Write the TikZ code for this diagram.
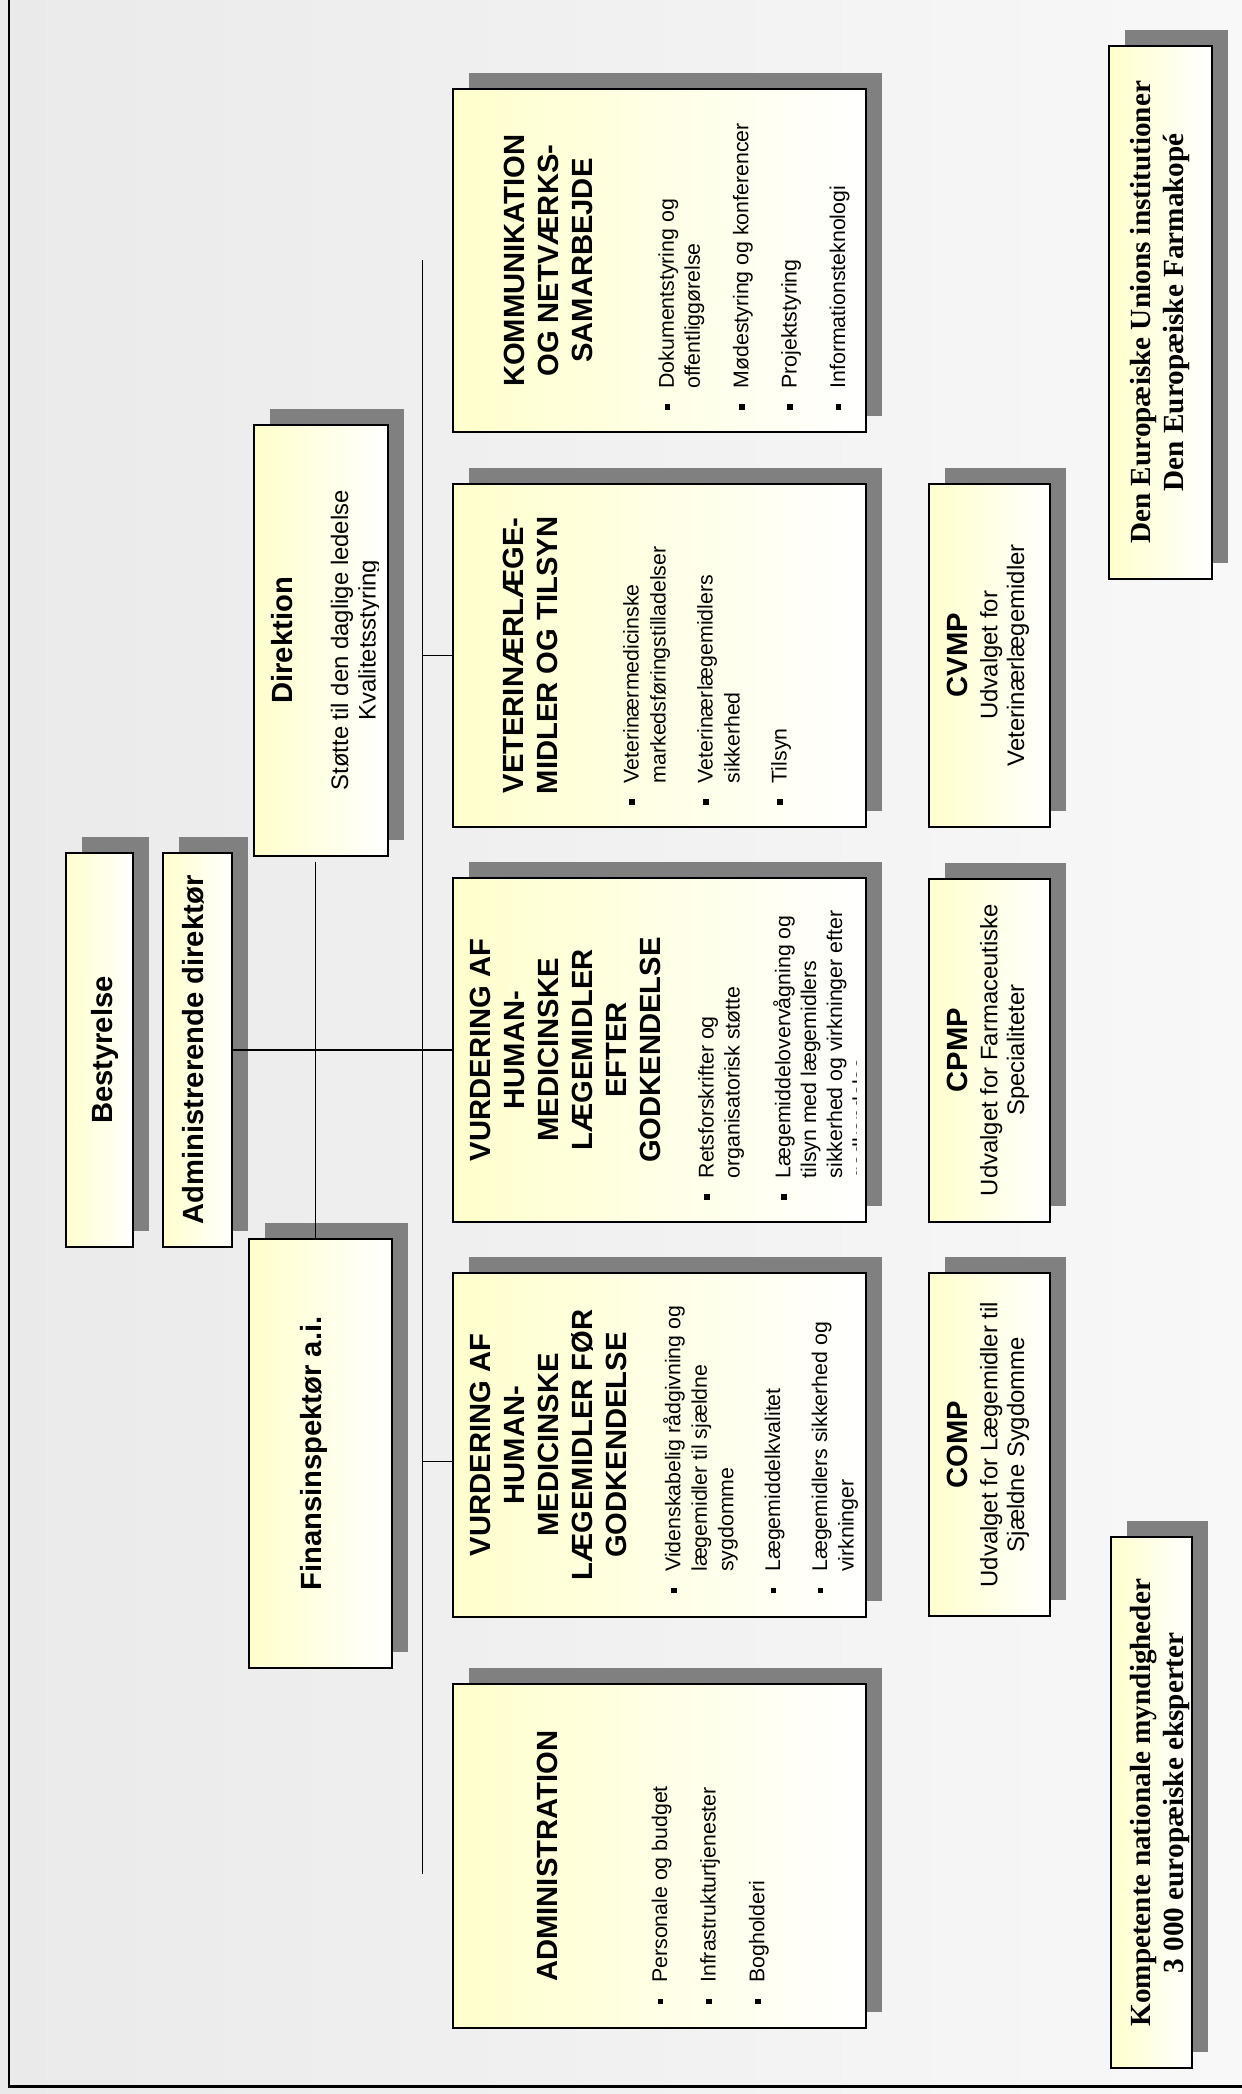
\documentclass[tikz,border=0pt]{standalone}
\usepackage{fontspec}
\setmainfont{Liberation Sans}
\newfontfamily\tnr{Liberation Serif}
\usetikzlibrary{shadows,calc}
\definecolor{ylw}{RGB}{255,255,204}
\definecolor{bgL}{RGB}{234,234,234}
\definecolor{bgR}{RGB}{248,248,248}
\newcommand{\bul}{\leavevmode\llap{\rule[1.9pt]{2.75pt}{2.75pt}\hspace{8pt}}}
\begin{document}
\begin{tikzpicture}[x=0.5pt,y=-0.5pt,
  box/.style={draw=black, line width=1pt, left color=ylw, right color=white, inner sep=0pt, outer sep=0pt,
    drop shadow={shadow xshift=8pt, shadow yshift=8pt, opacity=1, fill=black!50}},
  rt/.style={rotate=90, inner sep=0pt, outer sep=0pt},
  ttl/.style={rt, anchor=north, align=center, font=\bfseries\fontsize{14.6}{17}\selectfont},
  bdy/.style={rt, anchor=north, align=center, font=\fontsize{11.95}{13.35}\selectfont},
  bullets/.style={rt, anchor=north west, align=left, font=\fontsize{10.65}{#1}\selectfont},
  serifttl/.style={rt, anchor=north, align=center, font=\tnr\bfseries\fontsize{14.6}{16.85}\selectfont},
  conn/.style={line width=0.7pt, black}
]
\clip (0,0) rectangle (1242,2094);
\fill[left color=bgL, right color=bgR] (0,0) rectangle (1242,2094);
\draw[line width=1.2pt] (8.7,-10) -- (8.7,2086.5) -- (1260,2086.5);

% boxes
\node[box, minimum width=33.05pt, minimum height=197.3pt] (best) at (99.45,1050) {};
\node[box, minimum width=34.5pt, minimum height=197.3pt] (adm) at (197.5,1050) {};
\node[box, minimum width=67pt, minimum height=215.65pt] (dir) at (321,640.35) {};
\node[box, minimum width=71.5pt, minimum height=214.5pt] (fin) at (320.5,1453.5) {};
\node[box, minimum width=206.65pt, minimum height=171.35pt] (komm) at (659.35,260.65) {};
\node[box, minimum width=206.65pt, minimum height=171.8pt] (vet) at (659.35,655.5) {};
\node[box, minimum width=206.65pt, minimum height=171.7pt] (vefter) at (659.35,1050) {};
\node[box, minimum width=206.65pt, minimum height=171.7pt] (vfor) at (659.35,1445) {};
\node[box, minimum width=206.65pt, minimum height=172pt] (admin) at (659.35,1856.3) {};
\node[box, minimum width=60.1pt, minimum height=171.7pt] (cvmp) at (989.5,655.3) {};
\node[box, minimum width=60.1pt, minimum height=171.5pt] (cpmp) at (989.5,1050) {};
\node[box, minimum width=60.1pt, minimum height=171.8pt] (comp) at (989.5,1444.6) {};
\node[box, minimum width=51.65pt, minimum height=266.25pt] (eu) at (1160.35,312.25) {};
\node[box, minimum width=40.85pt, minimum height=265.55pt] (komp) at (1151.55,1802.75) {};

% connectors
\coordinate (vtop) at (422.7,260);
\coordinate (vbot) at (422.7,1873.6);
\coordinate (dx) at (315.5,0);
\draw[conn] (vtop) -- (vbot);
\draw[conn] (vtop |- vet.west) -- (vet.west);
\coordinate (vforin) at ($(vfor.west)+(0,16.7)$);
\draw[conn] (vtop |- vforin) -- (vforin);
\draw[conn] (adm.east) -- (vefter.west);
\coordinate (dbase) at (dir.south -| dx);
\coordinate (dstart) at ($(dbase)+(0,5.5)$);
\draw[conn] (dstart) -- (fin.north -| dx);

% top level texts
\node[ttl] (bestT) at (91.7,1050) {Bestyrelse};
\node[ttl] (admT) at (181.9,1050) {Administrerende direktør};
\node[ttl] (dirT) at (271.7,640.3) {Direktion};
\begin{scope}
\clip (dir.north west) rectangle ($(dir.south east)+(-10,0)$);
\node[bdy, font=\fontsize{11.95}{13.85}\selectfont] (dirB) at (330.7,640.3) {Støtte til den daglige ledelse\\Kvalitetsstyring};
\end{scope}
\node[ttl] (finT) at (300.5,1453.5) {Finansinspektør a.i.};

% divisions
\node[ttl] (kommT) at (504,260.65) {KOMMUNIKATION\\OG NETVÆRKS-\\SAMARBEJDE};
\node[bullets=13pt] (kommB) at (658.5,388.4) {\bul Dokumentstyring og\\offentliggørelse\\[11.2pt]\bul Mødestyring og konferencer\\[11.2pt]\bul Projektstyring\\[11.2pt]\bul Informationsteknologi};

\node[ttl] (vetT) at (503.3,655.5) {VETERINÆRLÆGE-\\MIDLER OG TILSYN};
\node[bullets=13.4pt] (vetB) at (623.3,783.3) {\bul Veterinærmedicinske\\markedsføringstilladelser\\[10.2pt]\bul Veterinærlægemidlers\\sikkerhed\\[10.2pt]\bul Tilsyn};

\node[ttl] (vefterT) at (470,1050) {VURDERING AF\\HUMAN-\\MEDICINSKE\\LÆGEMIDLER\\EFTER\\GODKENDELSE};
\begin{scope}
\clip (vefter.north west) rectangle ($(vefter.south east)+(-9.5,0)$);
\node[bullets=12.9pt] (vefterB) at (698.3,1178.3) {\bul Retsforskrifter og\\organisatorisk støtte\\[12.55pt]\bul Lægemiddelovervågning og\\tilsyn med lægemidlers\\sikkerhed og virkninger efter\\godkendelse};
\end{scope}

\node[ttl] (vforT) at (470,1445) {VURDERING AF\\HUMAN-\\MEDICINSKE\\LÆGEMIDLER FØR\\GODKENDELSE};
\node[bullets=13.25pt] (vforB) at (665,1571.7) {\bul Videnskabelig r\smash{å}dgivning og\\lægemidler til sjældne\\sygdomme\\[10.15pt]\bul Lægemiddelkvalitet\\[10.15pt]\bul Lægemidlers sikkerhed og\\virkninger};

\node[ttl] (adminT) at (536.7,1856.3) {ADMINISTRATION};
\node[bullets=13pt] (adminB) at (651.7,1982.7) {\bul Personale og budget\\[11.3pt]\bul Infrastrukturtjenester\\[11.3pt]\bul Bogholderi};

% committees
\node[ttl] (cvmpT) at (946.7,655.3) {CVMP};
\node[bdy] (cvmpB) at (980,655.3) {Udvalget for\\Veterinærlægemidler};
\node[ttl] (cpmpT) at (946.7,1050) {CPMP};
\node[bdy] (cpmpB) at (980,1050) {Udvalget for Farmaceutiske\\Specialiteter};
\node[ttl] (compT) at (946.7,1444.6) {COMP};
\node[bdy] (compB) at (980,1444.6) {Udvalget for Lægemidler til\\Sjældne Sygdomme};

% external
\node[serifttl] (euT) at (1129.8,312.25) {Den Europæiske Unions institutioner\\Den Europæiske Farmakopé};
\node[serifttl] (kompT) at (1129.8,1802.75) {Kompetente nationale myndigheder\\3 000 europæiske eksperter};
\end{tikzpicture}
\end{document}
